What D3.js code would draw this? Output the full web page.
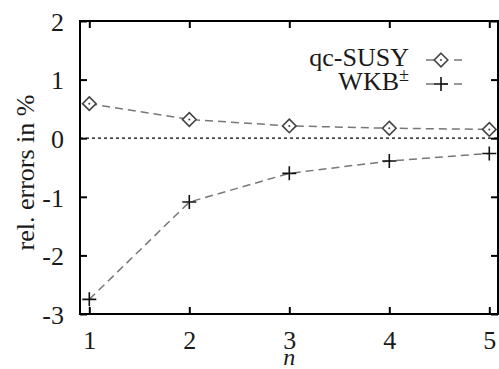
<!DOCTYPE html>
<html>
<head>
<meta charset="utf-8">
<script src="https://cdn.jsdelivr.net/npm/d3@7"></script>
<style>
  html, body { margin: 0; padding: 0; background: #fff; }
  svg { display: block; }
  text { font-family: "Liberation Serif", "DejaVu Serif", serif; fill: #1a1a1a; }
</style>
</head>
<body>
<svg id="chart" width="499" height="369"></svg>
<script>
// ---- data ----
const nValues = [1, 2, 3, 4, 5];
const qcSusy = [0.59, 0.32, 0.21, 0.17, 0.15];
const wkb = [-2.75, -1.09, -0.60, -0.39, -0.26];
const xTicks = [1, 2, 3, 4, 5];
const yTicks = [-3, -2, -1, 0, 1, 2];
const seriesNames = ["qc-SUSY", "WKB"];

const svg = d3.select("#chart");
const L = 80, R = 498, T = 21, B = 314;
const x = d3.scaleLinear().domain([0.907, 5.087]).range([L, R]);
const y = d3.scaleLinear().domain([-3, 2]).range([B, T]);
const FS = 26;
const tickLen = 7;
const fmt = d => String(d); // hyphen-minus like the reference

// zero line
svg.append("line")
  .attr("x1", L).attr("x2", R).attr("y1", y(0)).attr("y2", y(0))
  .attr("stroke", "#000").attr("stroke-width", 1.2).attr("stroke-dasharray", "3,3");

// axes via d3 (inner ticks)
const gx = svg.append("g").attr("transform", `translate(0,${B})`)
  .call(d3.axisBottom(x).tickValues(xTicks).tickSize(-tickLen).tickPadding(17).tickFormat(fmt));
const gxt = svg.append("g").attr("transform", `translate(0,${T})`)
  .call(d3.axisTop(x).tickValues(xTicks).tickSize(-tickLen).tickFormat(""));
const gy = svg.append("g").attr("transform", `translate(${L},0)`)
  .call(d3.axisLeft(y).tickValues(yTicks).tickSize(-tickLen).tickPadding(16).tickFormat(fmt));
const gyr = svg.append("g").attr("transform", `translate(${R},0)`)
  .call(d3.axisRight(y).tickValues(yTicks).tickSize(-tickLen).tickFormat(""));

[gx, gxt, gy, gyr].forEach(g => {
  g.select(".domain").remove();
  g.selectAll(".tick line").attr("stroke", "#000").attr("stroke-width", 2);
  g.selectAll(".tick text").attr("font-size", FS).attr("font-family", "Liberation Serif").attr("fill", "#1a1a1a");
});
gx.selectAll(".tick text").attr("dy", "0.71em");
gy.selectAll(".tick text").attr("dy", "0.36em");

// frame
svg.append("rect").attr("x", L).attr("y", T).attr("width", R - L).attr("height", B - T)
  .attr("fill", "none").attr("stroke", "#000").attr("stroke-width", 2);

// axis labels
svg.append("text").attr("transform", `translate(34,${(T + B) / 2 + 5}) rotate(-90)`)
  .attr("text-anchor", "middle").attr("font-size", FS).text("rel. errors in %");
svg.append("text").attr("x", x(3)).attr("y", 365).attr("text-anchor", "middle")
  .attr("font-size", 24).attr("font-style", "italic").text("n");

// series
const line = d3.line().x((d, i) => x(nValues[i])).y(d => y(d));
const lineColor = "#777";
svg.append("path").datum(qcSusy).attr("d", line).attr("fill", "none")
  .attr("stroke", lineColor).attr("stroke-width", 1.5).attr("stroke-dasharray", "8,5");
svg.append("path").datum(wkb).attr("d", line).attr("fill", "none")
  .attr("stroke", lineColor).attr("stroke-width", 1.5).attr("stroke-dasharray", "8,5");

function diamond(g, cx, cy) {
  const s = 6.8;
  g.append("path").attr("d", `M${cx},${cy - s}L${cx + s},${cy}L${cx},${cy + s}L${cx - s},${cy}Z`)
    .attr("fill", "#fff").attr("stroke", "#444").attr("stroke-width", 1.6);
  g.append("circle").attr("cx", cx).attr("cy", cy).attr("r", 1).attr("fill", "#444");
}
function plus(g, cx, cy) {
  const s = 7;
  g.append("path").attr("d", `M${cx - s},${cy}H${cx + s}M${cx},${cy - s}V${cy + s}`)
    .attr("stroke", "#111").attr("stroke-width", 1.6).attr("fill", "none");
}
const mk = svg.append("g");
qcSusy.forEach((d, i) => diamond(mk, x(nValues[i]), y(d)));
wkb.forEach((d, i) => plus(mk, x(nValues[i]), y(d)));

// legend
const legY = [60, 84];
const lg = svg.append("g");
legY.forEach((ly, i) => {
  lg.append("line").attr("x1", 426).attr("x2", 465).attr("y1", ly).attr("y2", ly)
    .attr("stroke", lineColor).attr("stroke-width", 1.5).attr("stroke-dasharray", "8,6");
});
diamond(lg, 441, legY[0]);
plus(lg, 441, legY[1]);
lg.append("text").attr("x", 409).attr("y", legY[0] + 6).attr("text-anchor", "end")
  .attr("font-size", FS).text(seriesNames[0]);
const t2 = lg.append("text").attr("x", 409).attr("y", legY[1] + 6).attr("text-anchor", "end")
  .attr("font-size", FS);
t2.append("tspan").text(seriesNames[1]);
t2.append("tspan").attr("font-size", FS * 0.7).attr("dy", -9).text("±");
</script>
</body>
</html>
